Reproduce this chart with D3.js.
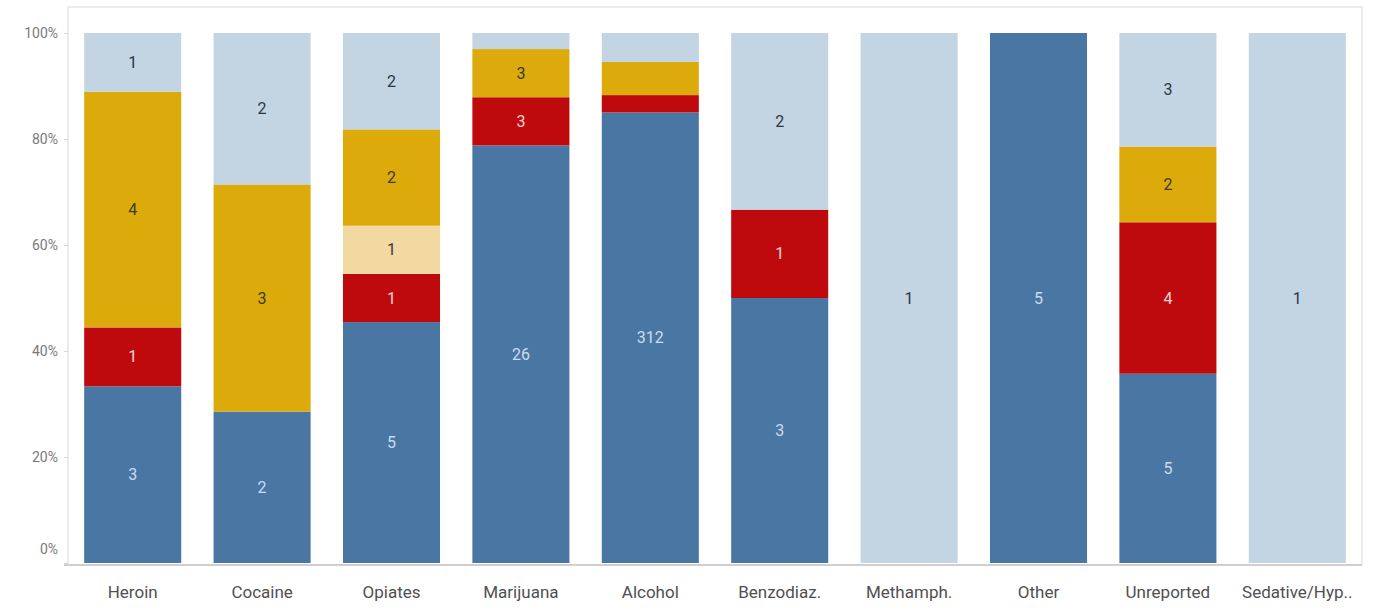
<!DOCTYPE html>
<html>
<head>
<meta charset="utf-8">
<script src="https://cdn.jsdelivr.net/npm/d3@7"></script>
<style>
  html, body { margin: 0; padding: 0; background: #fff; }
  svg text { font-family: "Liberation Sans Narrow", "Roboto", "Liberation Sans", sans-serif; }
</style>
</head>
<body>
<svg id="chart" width="1383" height="612"></svg>
<script>
// Substance categories along the x axis
const categories = ["Heroin", "Cocaine", "Opiates", "Marijuana", "Alcohol",
  "Benzodiaz.", "Methamph.", "Other", "Unreported", "Sedative/Hyp.."];

// Counts per segment, stacked bottom to top
const seriesNames = ["s1", "s2", "s3", "s4", "s5"];
const s1 = [3, 2, 5, 26, 312, 3, 0, 5, 5, 0];   // dark blue
const s2 = [1, 0, 1, 3, 12, 1, 0, 0, 4, 0];     // red
const s3 = [0, 0, 1, 0, 0, 0, 0, 0, 0, 0];      // tan
const s4 = [4, 3, 2, 3, 23, 0, 0, 0, 2, 0];     // gold
const s5 = [1, 2, 2, 1, 20, 2, 1, 0, 3, 1];     // light blue

const yTicks = [0, 0.2, 0.4, 0.6, 0.8, 1.0];

const colors = { s1: "#4a76a4", s2: "#bf0a0d", s3: "#f2d9a2", s4: "#dcaa0a", s5: "#c3d5e3" };
const labelColors = { s1: "#c9dcf0", s2: "#f6d4d4", s3: "#3a3a3a", s4: "#3a3a2a", s5: "#2e3540" };

const svg = d3.select("#chart");
const mLeft = 68, mRight = 1362, mTop = 33, mBottom = 563;

const x = d3.scaleBand().domain(categories).range([mLeft, mRight]).paddingInner(0.25).paddingOuter(0.125);
const y = d3.scaleLinear().domain([0, 1]).range([mBottom, mTop]);

const seriesData = { s1, s2, s3, s4, s5 };
const rows = categories.map((c, i) => {
  const r = { cat: c };
  seriesNames.forEach(s => r[s] = seriesData[s][i]);
  r.total = d3.sum(seriesNames, s => r[s]);
  return r;
});
const normRows = rows.map(r => {
  const n = { cat: r.cat };
  seriesNames.forEach(s => n[s] = r[s] / r.total);
  return n;
});
const stack = d3.stack().keys(seriesNames)(normRows);

// Plot frame
svg.append("path")
  .attr("d", `M${mLeft},${mBottom + 2} V7 H${mRight} V${mBottom + 2}`)
  .attr("fill", "none").attr("stroke", "#e6e6e6").attr("stroke-width", 1.5);

// Baseline
svg.append("line")
  .attr("x1", mLeft - 4).attr("x2", mRight).attr("y1", mBottom + 2).attr("y2", mBottom + 2)
  .attr("stroke", "#cfcfcf").attr("stroke-width", 2);

// Y axis
const yAxis = svg.append("g").attr("transform", `translate(${mLeft},0)`)
  .call(d3.axisLeft(y).tickValues(yTicks).tickFormat(d3.format(".0%")).tickSize(4).tickPadding(6));
yAxis.select(".domain").remove();
yAxis.selectAll(".tick line").attr("stroke", "#d8d8d8");
yAxis.selectAll(".tick text").attr("fill", "#7a7a7a").style("font-size", "14px");
yAxis.selectAll(".tick").filter(d => d === 0).select("text").attr("dy", "-0.7em");

// X axis labels
const xAxis = svg.append("g").attr("transform", `translate(0,${mBottom + 2})`)
  .call(d3.axisBottom(x).tickSize(0).tickPadding(21));
xAxis.select(".domain").remove();
xAxis.selectAll(".tick text").attr("fill", "#505050").style("font-size", "17px");

// Bars
const layers = svg.append("g").selectAll("g").data(stack).join("g")
  .attr("fill", d => colors[d.key]);
layers.selectAll("rect").data(d => d.map(p => ({ p, key: d.key })))
  .join("rect")
  .attr("x", d => x(d.p.data.cat))
  .attr("width", x.bandwidth())
  .attr("y", d => y(d.p[1]))
  .attr("height", d => Math.max(0, y(d.p[0]) - y(d.p[1])));

// Count labels
const labels = [];
stack.forEach(layer => {
  layer.forEach((p, i) => {
    const h = y(p[0]) - y(p[1]);
    if (h > 40) labels.push({ key: layer.key, cat: p.data.cat, mid: (p[0] + p[1]) / 2, val: seriesData[layer.key][i] });
  });
});
svg.append("g").selectAll("text").data(labels).join("text")
  .attr("x", d => x(d.cat) + x.bandwidth() / 2)
  .attr("y", d => y(d.mid))
  .attr("dy", "0.35em")
  .attr("text-anchor", "middle")
  .attr("fill", d => labelColors[d.key])
  .style("font-size", "16px")
  .text(d => d.val);
</script>
</body>
</html>
